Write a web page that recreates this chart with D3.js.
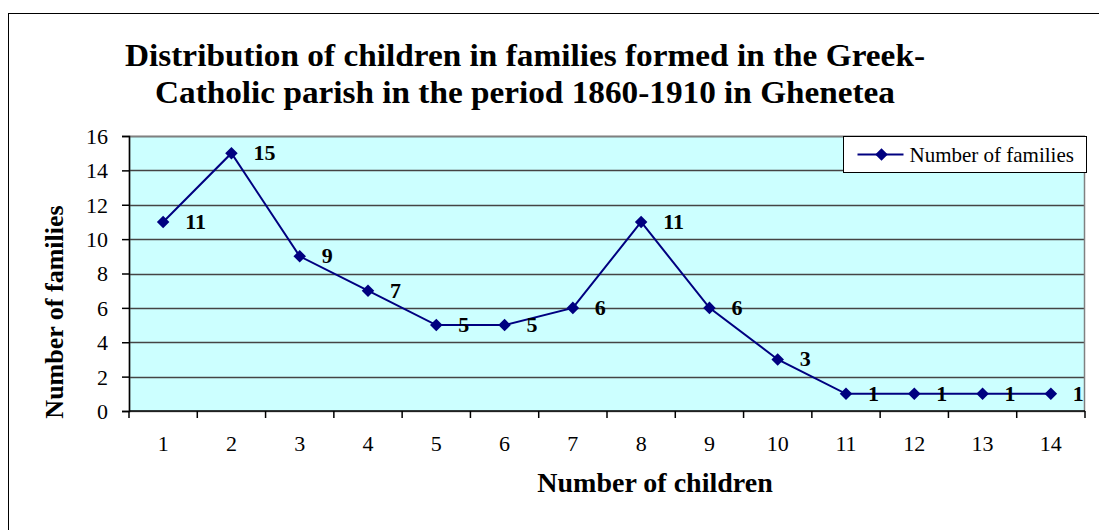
<!DOCTYPE html>
<html>
<head>
<meta charset="utf-8">
<script src="https://cdn.jsdelivr.net/npm/d3@7"></script>
</head>
<body style="margin:0;background:#fff">
<svg id="chart"></svg>
<script>
const categories = ["1", "2", "3", "4", "5", "6", "7", "8", "9", "10", "11", "12", "13", "14"];
const families = [11, 15, 9, 7, 5, 5, 6, 11, 6, 3, 1, 1, 1, 1];
const yTicks = [0, 2, 4, 6, 8, 10, 12, 14, 16];
const titleLines = ["Distribution of children in families formed in the Greek-",
                    "Catholic parish in the period 1860-1910 in Ghenetea"];
const titleWidths = [800, 740];
const seriesName = "Number of families";

const FONT = "'Liberation Serif', 'Times New Roman', Times, serif";
const W = 1099, H = 530;
const margin = { top: 136, right: 14, bottom: 119, left: 129 };

const svg = d3.select('#chart')
    .attr('width', W)
    .attr('height', H)
    .style('font-family', FONT);

// outer chart frame
svg.append('rect')
    .attr('x', 8.5).attr('y', 13.5)
    .attr('width', W + 10).attr('height', H + 10)
    .attr('fill', '#fff')
    .attr('stroke', '#000')
    .attr('stroke-width', 1);

const x = d3.scaleBand()
    .domain(categories)
    .range([margin.left, W - margin.right]);

const y = d3.scaleLinear()
    .domain([0, 16])
    .range([H - margin.bottom, margin.top]);

// plot background
svg.append('rect')
    .attr('x', margin.left).attr('y', margin.top)
    .attr('width', W - margin.right - margin.left)
    .attr('height', y(0) - y(16))
    .attr('fill', '#ccffff');

// gridlines
svg.append('g')
    .selectAll('line')
    .data(yTicks.slice(1))
    .enter().append('line')
    .attr('x1', margin.left).attr('x2', W - margin.right)
    .attr('y1', d => Math.round(y(d)) + 0.5)
    .attr('y2', d => Math.round(y(d)) + 0.5)
    .attr('stroke', '#444')
    .attr('stroke-width', 1.3);

// plot border
svg.append('rect')
    .attr('x', margin.left + 0.5).attr('y', Math.round(y(16)) + 0.5)
    .attr('width', W - margin.right - margin.left - 1)
    .attr('height', Math.round(y(0)) - Math.round(y(16)))
    .attr('fill', 'none')
    .attr('stroke', '#808080')
    .attr('stroke-width', 1.5);

// y axis
const yAxis = svg.append('g')
    .attr('transform', `translate(${margin.left}, 0)`)
    .call(d3.axisLeft(y).tickValues(yTicks).tickSize(7).tickPadding(14));
yAxis.select('.domain').attr('stroke', '#000').attr('stroke-width', 1.5);
yAxis.selectAll('.tick line').attr('stroke', '#000').attr('stroke-width', 1.5);
yAxis.selectAll('text')
    .style('font-family', FONT)
    .style('font-size', '22px')
    .attr('dy', '0.34em')
    .attr('fill', '#000');

// x axis, ticks at band edges
const xAxis = svg.append('g')
    .attr('transform', `translate(0, ${y(0)})`);
xAxis.append('line')
    .attr('x1', margin.left).attr('x2', W - margin.right)
    .attr('y1', 0).attr('y2', 0)
    .attr('stroke', '#000').attr('stroke-width', 1.5);
const edges = categories.map(c => x(c)).concat([x(categories[categories.length - 1]) + x.bandwidth()]);
xAxis.selectAll('line.tk')
    .data(edges)
    .enter().append('line')
    .attr('class', 'tk')
    .attr('x1', d => d).attr('x2', d => d)
    .attr('y1', 0).attr('y2', 7)
    .attr('stroke', '#000').attr('stroke-width', 1.5);
xAxis.selectAll('text')
    .data(categories)
    .enter().append('text')
    .attr('x', d => x(d) + x.bandwidth() / 2)
    .attr('y', 40)
    .attr('text-anchor', 'middle')
    .style('font-family', FONT)
    .style('font-size', '22px')
    .text(d => d);

// line + markers
const cx = (d, i) => x(categories[i]) + x.bandwidth() / 2;
const line = d3.line()
    .x((d, i) => cx(d, i))
    .y(d => y(d));

svg.append('path')
    .datum(families)
    .attr('d', line)
    .attr('fill', 'none')
    .attr('stroke', '#000080')
    .attr('stroke-width', 2);

const diamond = d3.symbol().type(d3.symbolDiamond2).size(100);

svg.selectAll('path.mk')
    .data(families)
    .enter().append('path')
    .attr('class', 'mk')
    .attr('d', diamond)
    .attr('transform', (d, i) => `translate(${cx(d, i)}, ${y(d)})`)
    .attr('fill', '#000080');

// data labels
svg.selectAll('text.lbl')
    .data(families)
    .enter().append('text')
    .attr('class', 'lbl')
    .attr('x', (d, i) => cx(d, i) + 22)
    .attr('y', d => y(d) + 7)
    .style('font-family', FONT)
    .style('font-size', '22px')
    .style('font-weight', 'bold')
    .text(d => d);

// title, two lines
svg.selectAll('text.title')
    .data(titleLines)
    .enter().append('text')
    .attr('class', 'title')
    .attr('x', 525)
    .attr('y', (d, i) => 66 + i * 37)
    .attr('text-anchor', 'middle')
    .attr('textLength', (d, i) => titleWidths[i])
    .attr('lengthAdjust', 'spacingAndGlyphs')
    .style('font-family', FONT)
    .style('font-size', '31px')
    .style('font-weight', 'bold')
    .text(d => d);

// axis titles
svg.append('text')
    .attr('transform', `translate(63, 312) rotate(-90)`)
    .attr('text-anchor', 'middle')
    .style('font-family', FONT)
    .style('font-size', '26px')
    .style('font-weight', 'bold')
    .text('Number of families');

svg.append('text')
    .attr('x', 655)
    .attr('y', 492)
    .attr('text-anchor', 'middle')
    .style('font-family', FONT)
    .style('font-size', '28px')
    .style('font-weight', 'bold')
    .text('Number of children');

// legend
const lg = svg.append('g').attr('transform', 'translate(843.5, 136.5)');
lg.append('rect')
    .attr('width', 243).attr('height', 36)
    .attr('fill', '#fff')
    .attr('stroke', '#000').attr('stroke-width', 1);
lg.append('line')
    .attr('x1', 14).attr('x2', 60)
    .attr('y1', 18).attr('y2', 18)
    .attr('stroke', '#000080').attr('stroke-width', 2);
lg.append('path')
    .attr('d', diamond)
    .attr('transform', 'translate(38, 18)')
    .attr('fill', '#000080');
lg.append('text')
    .attr('x', 66).attr('y', 25)
    .style('font-family', FONT)
    .style('font-size', '21px')
    .text(seriesName);
</script>
</body>
</html>
